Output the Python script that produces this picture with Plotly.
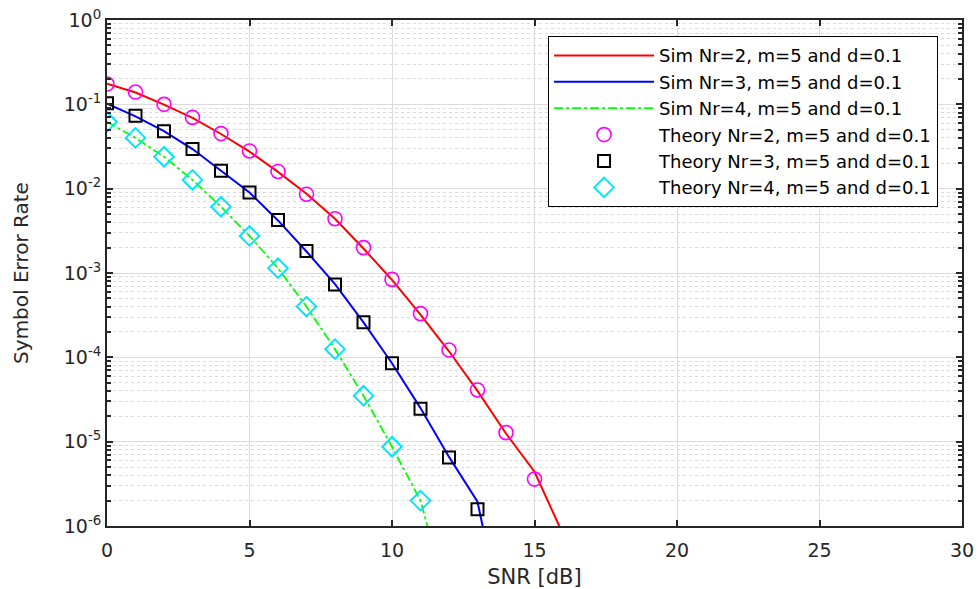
import plotly.graph_objects as go

snr_theory2 = list(range(0, 16))
theory_nr2 = [0.174, 0.14, 0.100, 0.070, 0.045, 0.028, 0.016, 0.0086, 0.0044, 0.0020,
              8.4e-4, 3.3e-4, 1.22e-4, 4.1e-5, 1.28e-5, 3.6e-6]
snr_theory3 = list(range(0, 14))
theory_nr3 = [0.103, 0.073, 0.048, 0.0295, 0.0163, 0.009, 0.00425, 0.00182, 7.3e-4, 2.6e-4,
              8.5e-5, 2.46e-5, 6.5e-6, 1.58e-6]
snr_theory4 = list(range(0, 12))
theory_nr4 = [0.062, 0.040, 0.0239, 0.0127, 0.0061, 0.00275, 0.00114, 4.0e-4, 1.25e-4, 3.5e-5,
              8.7e-6, 2.0e-6]

snr_sim2 = list(range(0, 17))
sim_nr2 = [0.176, 0.138, 0.099, 0.069, 0.0445, 0.0275, 0.0158, 0.0087, 0.0044, 0.00195,
           8.3e-4, 3.2e-4, 1.18e-4, 4.0e-5, 1.25e-5, 4.4e-6, 8.0e-7]
snr_sim3 = list(range(0, 15))
sim_nr3 = [0.102, 0.072, 0.048, 0.0295, 0.0163, 0.009, 0.0042, 0.0018, 7.4e-4, 2.6e-4,
           8.5e-5, 2.5e-5, 6.6e-6, 1.94e-6, 4.9e-8]
snr_sim4 = list(range(0, 13))
sim_nr4 = [0.062, 0.040, 0.0239, 0.0127, 0.0061, 0.00275, 0.00114, 4.0e-4, 1.25e-4, 3.5e-5,
           8.7e-6, 2.0e-6, 1.17e-7]

names_sim = ["Sim Nr=2, m=5 and d=0.1", "Sim Nr=3, m=5 and d=0.1", "Sim Nr=4, m=5 and d=0.1"]
names_theory = ["Theory Nr=2, m=5 and d=0.1", "Theory Nr=3, m=5 and d=0.1", "Theory Nr=4, m=5 and d=0.1"]

y_tickvals = [1e-6, 1e-5, 1e-4, 1e-3, 1e-2, 1e-1, 1]
y_ticktext = ["10<sup>-6</sup>", "10<sup>-5</sup>", "10<sup>-4</sup>", "10<sup>-3</sup>",
              "10<sup>-2</sup>", "10<sup>-1</sup>", "10<sup>0</sup>"]
minor_vals = [k * 10.0 ** e for e in range(-6, 0) for k in range(2, 10)]

FONT = "DejaVu Sans"
TXT = "#262626"

fig = go.Figure()
fig.add_trace(go.Scatter(x=snr_sim2, y=sim_nr2, mode="lines", name=names_sim[0],
                         line=dict(color="#ff0000", width=2)))
fig.add_trace(go.Scatter(x=snr_sim3, y=sim_nr3, mode="lines", name=names_sim[1],
                         line=dict(color="#0000ff", width=2)))
fig.add_trace(go.Scatter(x=snr_sim4, y=sim_nr4, mode="lines", name=names_sim[2],
                         line=dict(color="#00ff00", width=1.8, dash="dashdot")))
fig.add_trace(go.Scatter(x=snr_theory2, y=theory_nr2, mode="markers", name=names_theory[0],
                         marker=dict(symbol="circle-open", color="#ff00ff", size=14,
                                     line=dict(width=1.6))))
fig.add_trace(go.Scatter(x=snr_theory3, y=theory_nr3, mode="markers", name=names_theory[1],
                         marker=dict(symbol="square-open", color="#000000", size=12,
                                     line=dict(width=2))))
fig.add_trace(go.Scatter(x=snr_theory4, y=theory_nr4, mode="markers", name=names_theory[2],
                         marker=dict(symbol="diamond-open", color="#00e5ff", size=15,
                                     line=dict(width=2))))

fig.update_layout(
    width=979, height=589,
    margin=dict(l=107, r=17, t=20, b=63, autoexpand=False),
    paper_bgcolor="white", plot_bgcolor="white",
    font=dict(family=FONT, size=19, color=TXT),
    showlegend=True,
    legend=dict(x=0.972, y=0.968, xanchor="right", yanchor="top",
                bgcolor="white", bordercolor="#000000", borderwidth=1,
                font=dict(family=FONT, size=18, color="#000000"),
                itemwidth=100, tracegroupgap=0),
)
fig.update_xaxes(
    range=[0, 30], dtick=5, tick0=0,
    showline=True, linecolor="#262626", linewidth=2, mirror="ticks",
    ticks="inside", ticklen=6, tickwidth=1.5, tickcolor="#262626",
    showgrid=True, gridcolor="#dcdcdc", gridwidth=1, zeroline=False,
    title=dict(text="SNR [dB]", font=dict(family=FONT, size=21, color=TXT), standoff=12),
    tickfont=dict(family=FONT, size=19, color=TXT), ticklabelstandoff=6,
)
fig.update_yaxes(
    type="log", range=[-6, 0],
    tickmode="array", tickvals=y_tickvals, ticktext=y_ticktext,
    showline=True, linecolor="#262626", linewidth=2, mirror="ticks",
    ticks="inside", ticklen=6, tickwidth=1.5, tickcolor="#262626",
    showgrid=True, gridcolor="#dcdcdc", gridwidth=1, zeroline=False,
    minor=dict(tickmode="array", tickvals=minor_vals, ticks="inside", ticklen=4,
               tickcolor="#262626", showgrid=True, gridcolor="#dadada",
               griddash="dot", gridwidth=1),
    title=dict(text="Symbol Error Rate", font=dict(family=FONT, size=20, color=TXT), standoff=30),
    tickfont=dict(family=FONT, size=19, color=TXT),
)

fig.write_html("out.html")
